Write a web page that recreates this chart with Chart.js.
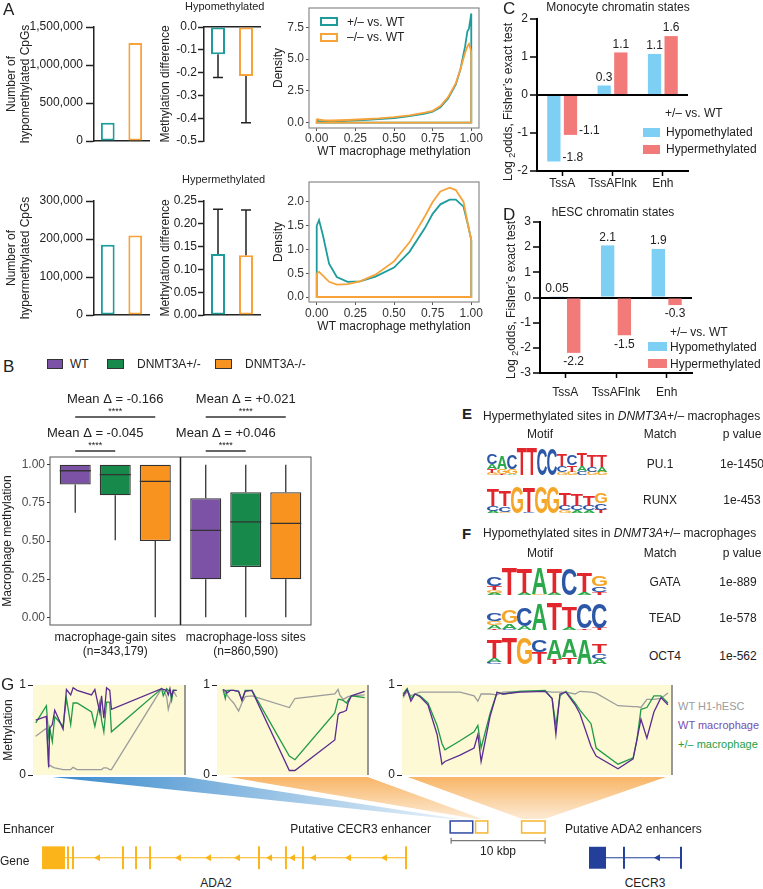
<!DOCTYPE html>
<html>
<head>
<meta charset="utf-8">
<script src="https://cdn.jsdelivr.net/npm/chart.js@4.4.1/dist/chart.umd.min.js"></script>
<style>
html, body { margin: 0; padding: 0; background: #fff; }
#fig { position: relative; width: 763px; height: 889px; overflow: hidden; font-family: 'Liberation Sans', Arial, sans-serif; color: #222; }
.t { position: absolute; white-space: nowrap; line-height: 1; font-size: 12px; }
.sw { position: absolute; box-sizing: border-box; }
canvas { position: absolute; }
</style>
</head>
<body>
<div id="fig">
<svg width="763" height="889" style="position:absolute;left:0;top:0">
  <defs>
    <linearGradient id="gb" gradientUnits="userSpaceOnUse" x1="60" y1="776" x2="470" y2="822">
      <stop offset="0" stop-color="#3c8ccd"/><stop offset="1" stop-color="#eef5fb"/>
    </linearGradient>
    <linearGradient id="go" gradientUnits="userSpaceOnUse" x1="0" y1="776" x2="0" y2="822">
      <stop offset="0" stop-color="#f8b464"/><stop offset="1" stop-color="#fdeedc"/>
    </linearGradient>
  </defs>
  <polygon points="33,776 186,776 472,820 450,820" fill="url(#gb)" stroke="#fff" stroke-width="2"/>
  <polygon points="217,776 368,776 488,820 476,820" fill="url(#go)" stroke="#fff" stroke-width="2"/>
  <polygon points="402,776 672,776 545,820 522,820" fill="url(#go)" stroke="#fff" stroke-width="2"/>
</svg>
</div>
<script>
// ---------- A: differentially methylated CpGs ----------
const pairLabels = ['+/– vs. WT', '–/– vs. WT'];
const hypoCount = [240000, 1290000];
const hyperCount = [185000, 209000];
const hypoDiff = [-0.12, -0.215];
const hypoDiffErr = [-0.222, -0.42];
const hyperDiff = [0.134, 0.131];
const hyperDiffErr = [0.232, 0.23];

// density of WT macrophage methylation
const densTicksX = [0, 0.25, 0.5, 0.75, 1];
const hypoDensTicksY = [0, 2.5, 5, 7.5];
const hyperDensTicksY = [0, 0.5, 1, 1.5, 2];
const hypoDensX = [0, 0.02, 0.05, 0.1, 0.2, 0.3, 0.4, 0.5, 0.6, 0.7, 0.75, 0.8, 0.85, 0.9, 0.93, 0.96, 0.975, 0.985, 0.995, 1.0, 1.0];
const hypoDensHet = [0.15, 0.1, 0.09, 0.1, 0.15, 0.2, 0.27, 0.36, 0.5, 0.7, 0.85, 1.2, 1.9, 3.0, 4.2, 6.0, 7.2, 7.4, 8.2, 8.6, 0];
const hypoDensKO = [0.3, 0.22, 0.17, 0.16, 0.2, 0.26, 0.33, 0.43, 0.56, 0.78, 0.92, 1.3, 2.0, 3.1, 4.2, 5.5, 6.0, 6.2, 5.8, 5.5, 0];
const hyperDensX = [0, 0.015, 0.04, 0.08, 0.13, 0.2, 0.28, 0.38, 0.5, 0.6, 0.7, 0.75, 0.8, 0.86, 0.9, 0.95, 0.98, 1.0, 1.0];
const hyperDensHet = [1.5, 1.62, 1.3, 0.7, 0.42, 0.32, 0.33, 0.43, 0.62, 0.95, 1.45, 1.75, 1.95, 2.05, 2.05, 1.9, 1.5, 1.2, 0];
const hyperDensKO = [0.5, 0.53, 0.45, 0.32, 0.26, 0.27, 0.33, 0.47, 0.75, 1.15, 1.7, 2.0, 2.22, 2.3, 2.25, 2.0, 1.5, 1.2, 0];

// ---------- B: box plots ----------
const boxGroups = ['WT', 'DNMT3A+/-', 'DNMT3A-/-'];
const siteLabels = [['macrophage-gain sites', '(n=343,179)'], ['macrophage-loss sites', '(n=860,590)']];
const boxQ1 = [[0.87, 0.25], [0.80, 0.33], [0.50, 0.25]];
const boxMed = [[0.96, 0.57], [0.935, 0.625], [0.89, 0.615]];
const boxQ3 = [[1.0, 0.78], [1.0, 0.82], [1.0, 0.82]];
const boxLo = [[0.685, 0], [0.505, 0], [0, 0]];
const boxHi = [[1, 1], [1, 1], [1, 1]];
const boxTicks = [0, 0.25, 0.5, 0.75, 1];
const bracketCat = [0, 0, 1, 1];
const bracketGroup = [2, 1, 2, 1];
const bracketText = ['Mean Δ = -0.166', 'Mean Δ = -0.045', 'Mean Δ = +0.021', 'Mean Δ = +0.046'];

// ---------- C, D: chromatin state enrichment ----------
const stateLabels = ['TssA', 'TssAFlnk', 'Enh'];
const monoHypo = [-1.75, 0.25, 1.08];
const monoHyper = [-1.05, 1.12, 1.55];
const monoHypoLbl = ['-1.8', '0.3', '1.1'];
const monoHyperLbl = ['-1.1', '1.1', '1.6'];
const escHypo = [0.05, 2.07, 1.93];
const escHyper = [-2.2, -1.5, -0.3];
const escHypoLbl = ['0.05', '2.1', '1.9'];
const escHyperLbl = ['-2.2', '-1.5', '-0.3'];

// ---------- E, F: motif logos (letter, bits) bottom to top ----------
const logoPU1 = [
  [['G', 0.15], ['T', 0.3], ['A', 0.35], ['C', 0.75]],
  [['T', 0.1], ['G', 0.35], ['A', 1.0]],
  [['A', 0.1], ['G', 0.35], ['C', 1.1]],
  [['T', 2.0]],
  [['T', 2.0]],
  [['C', 1.95]],
  [['C', 1.9]],
  [['G', 0.2], ['C', 0.45], ['T', 0.85]],
  [['G', 0.25], ['T', 0.45], ['C', 0.75]],
  [['C', 0.3], ['A', 0.4], ['T', 0.95]],
  [['G', 0.25], ['C', 0.35], ['T', 0.85]],
  [['G', 0.25], ['A', 0.35], ['T', 0.85]]
];
const logoRUNX = [
  [['A', 0.15], ['C', 0.35], ['T', 1.25]],
  [['G', 0.1], ['C', 0.4], ['T', 1.15]],
  [['G', 1.95]],
  [['C', 0.1], ['T', 1.85]],
  [['G', 1.95]],
  [['G', 1.9]],
  [['G', 0.2], ['C', 0.35], ['T', 1.0]],
  [['A', 0.2], ['C', 0.35], ['T', 0.9]],
  [['A', 0.2], ['C', 0.35], ['T', 0.75]],
  [['T', 0.25], ['C', 0.45], ['G', 0.75]]
];
const logoGATA = [
  [['A', 0.15], ['G', 0.2], ['T', 0.25], ['C', 0.65]],
  [['T', 1.95]],
  [['A', 0.15], ['T', 1.75]],
  [['G', 0.1], ['A', 1.8]],
  [['A', 0.15], ['T', 1.75]],
  [['C', 1.85]],
  [['A', 0.2], ['T', 1.35]],
  [['T', 0.2], ['C', 0.4], ['G', 0.75]]
];
const logoTEAD = [
  [['T', 0.1], ['A', 0.25], ['G', 0.3], ['C', 0.55]],
  [['C', 0.1], ['A', 0.4], ['G', 0.95]],
  [['A', 0.3], ['C', 1.35]],
  [['A', 1.85]],
  [['T', 1.9]],
  [['A', 0.2], ['T', 1.5]],
  [['T', 0.1], ['C', 1.75]],
  [['T', 0.15], ['C', 1.75]]
];
const logoOCT4 = [
  [['C', 0.15], ['A', 0.3], ['T', 1.35]],
  [['T', 1.95]],
  [['G', 1.95]],
  [['T', 0.9], ['C', 0.85]],
  [['T', 0.35], ['A', 1.4]],
  [['T', 0.5], ['A', 1.3]],
  [['A', 1.8]],
  [['A', 0.4], ['C', 0.4], ['T', 0.65]]
];

// ---------- G: methylation tracks (relative position 0-100) ----------
const gSeries = ['WT H1-hESC', 'WT macrophage', '+/– macrophage'];
const gPos1 = [1.8, 8.8, 10.3, 11.0, 12.7, 14.3, 19.8, 22.0, 24.8, 26.4, 29.0, 38.5, 40.7, 44.0, 45.1, 46.6, 48.4, 50.5, 51.6, 84.6, 85.7, 87.9, 89.0, 90.1, 91.2, 92.3, 94.5];
const g1Esc = [0.43, 0.52, 0.09, 0.11, 0.09, 0.08, 0.06, 0.06, 0.06, 0.085, 0.06, 0.06, 0.06, 0.06, 0.06, 0.08, 0.08, 0.06, 0.06, 0.96, 0.94, 0.87, 0.73, 0.80, 0.87, 0.94, 0.87];
const g1Wt = [0.61, 0.65, 0.09, 0.52, 0.56, 0.72, 0.51, 0.95, 0.89, 0.97, 0.94, 0.89, 0.95, 0.69, 0.88, 0.63, 0.97, 0.94, 0.73, 0.96, 0.95, 0.94, 0.89, 0.96, 0.87, 0.94, 0.94];
const g1Het = [0.58, 0.77, 0.43, 0.52, 0.37, 0.65, 0.54, 0.85, 0.56, 0.80, 0.80, 0.70, 0.54, 0.81, 0.61, 0.48, 0.81, 0.81, 0.48, 0.96, 0.88, 0.96, 0.94, 0.94, 0.83, 0.94, 0.94];
const gPos2 = [4.0, 5.5, 6.6, 8.8, 11.0, 14.3, 16.5, 18.7, 23.1, 47.9, 51.6, 78.0, 80.2, 81.3, 83.5, 85.7, 86.8, 89.0, 97.8];
const g2Esc = [0.95, 0.91, 0.89, 0.84, 0.80, 0.71, 0.80, 0.87, 0.88, 0.75, 0.85, 0.90, 0.95, 0.89, 0.84, 0.86, 0.87, 0.88, 0.89];
const g2Wt = [0.95, 0.94, 0.91, 0.94, 0.94, 0.93, 0.83, 0.93, 0.94, 0.05, 0.05, 0.39, 0.67, 0.69, 0.70, 0.72, 0.80, 0.88, 0.93];
const g2Het = [0.95, 0.85, 0.94, 0.94, 0.94, 0.93, 0.83, 0.94, 0.94, 0.21, 0.17, 0.69, 0.84, 0.84, 0.83, 0.80, 0.83, 0.88, 0.86];
const gPos3 = [0.4, 1.9, 3.3, 4.8, 6.7, 9.6, 13.0, 14.8, 15.9, 21.5, 26.7, 28.1, 29.3, 32.6, 35.2, 37.4, 43.7, 53.0, 55.6, 57.0, 58.5, 60.7, 64.1, 65.9, 70.0, 71.9, 80.0, 85.6, 87.0, 88.5, 90.7, 93.3, 95.9, 98.5];
const g3Esc = [0.86, 0.93, 0.88, 0.90, 0.92, 0.92, 0.92, 0.92, 0.92, 0.92, 0.88, 0.82, 0.90, 0.90, 0.89, 0.92, 0.93, 0.93, 0.92, 0.92, 0.92, 0.92, 0.90, 0.93, 0.92, 0.91, 0.77, 0.76, 0.76, 0.75, 0.84, 0.84, 0.85, 0.91];
const g3Wt = [0.88, 0.95, 0.82, 0.90, 0.87, 0.78, 0.45, 0.12, 0.15, 0.22, 0.30, 0.45, 0.15, 0.65, 0.92, 0.90, 0.92, 0.93, 0.85, 0.45, 0.90, 0.92, 0.78, 0.68, 0.32, 0.21, 0.07, 0.18, 0.39, 0.62, 0.41, 0.70, 0.86, 0.78];
const g3Het = [0.90, 0.96, 0.85, 0.90, 0.88, 0.80, 0.55, 0.35, 0.28, 0.38, 0.48, 0.55, 0.30, 0.68, 0.92, 0.90, 0.93, 0.94, 0.85, 0.55, 0.88, 0.93, 0.80, 0.72, 0.57, 0.30, 0.12, 0.19, 0.39, 0.73, 0.75, 0.88, 0.88, 0.80];

// gene track, kbp
const ada2Box = [1.28, 3.72];
const ada2Span = [3.72, 40.0];
const ada2Exons = [4.04, 4.57, 9.89, 11.28, 12.77, 24.36, 27.23, 29.04, 40.0];
const ada2Arrows = [7.13, 15.74, 18.94, 22.02, 25.43, 27.87, 30.11, 33.83, 37.66];
const cecr3Box = [59.47, 61.28];
const cecr3Span = [61.28, 69.26];
const cecr3Exons = [63.19, 69.26];
const cecr3Arrows = [66.7];
const enhStart = [44.7, 47.4, 52.3];
const enhEnd = [47.1, 48.7, 54.8];
const enhGene = ['CECR3', 'ADA2', 'ADA2'];
const scaleBar = [44.8, 54.8];

// ---------- styling ----------
const teal = '#1e9c9c', orange = '#f8a23a';
const blueBar = '#7ecff4', redBar = '#f27b79';
const boxColors = ['#7b52a6', '#17894a', '#f7931e'];
const gColors = ['#9c9c9c', '#5b2c90', '#209a48'];
const baseColors = { A: '#2ba84a', C: '#2c57a7', G: '#f4a629', T: '#e2262b' };
const FONT = "'Liberation Sans', Arial, sans-serif";

Chart.defaults.font.family = FONT;
Chart.defaults.font.size = 12;
Chart.defaults.color = '#222';
Chart.defaults.animation = false;
Chart.defaults.events = [];
Chart.defaults.plugins.legend.display = false;
Chart.defaults.plugins.tooltip.enabled = false;

const fig = document.getElementById('fig');

function mk(box, cfg) {
  const c = document.createElement('canvas');
  c.width = box[2]; c.height = box[3];
  c.style.left = box[0] + 'px'; c.style.top = box[1] + 'px';
  fig.appendChild(c);
  cfg.options = Object.assign({ responsive: false, devicePixelRatio: 1 }, cfg.options);
  return new Chart(c, cfg);
}
const zeroPad = s => { s.paddingLeft = s.paddingRight = s.paddingTop = s.paddingBottom = 0; };
const fixW = w => s => { s.width = w; zeroPad(s); };
const fixH = h => s => { s.height = h; zeroPad(s); };

function yAx(o) {
  return {
    min: o.min, max: o.max,
    afterBuildTicks: o.ticks ? (s => { s.ticks = o.ticks.map(v => ({ value: v })); }) : undefined,
    ticks: { stepSize: o.step, callback: o.fmt, font: { size: 12 }, color: o.color || '#222', padding: o.pad ?? 2 },
    grid: { drawOnChartArea: false, tickLength: o.tl ?? 6, tickColor: o.tc || '#222', tickWidth: o.tw ?? 1.5 },
    border: { display: o.border !== false, color: '#222', width: 1.5 },
    title: o.title ? { display: true, text: o.title, font: { size: 12 }, color: '#222', padding: { top: o.tp ?? 4, bottom: 0 } } : { display: false },
    afterFit: fixW(o.w)
  };
}
function xBare(h, pos) {
  return { position: pos || 'bottom', ticks: { display: false }, grid: { display: false, drawTicks: false },
    border: { color: '#222', width: 1.5 }, afterFit: fixH(h) };
}

function txt(html, x, y, o = {}) {
  const d = document.createElement('div');
  d.className = 't';
  d.innerHTML = html;
  const tx = { left: '0', center: '-50%', right: '-100%' }[o.align || 'left'];
  d.style.left = x + 'px';
  d.style.top = y + 'px';
  d.style.transform = `translate(${tx},-50%)` + (o.rot ? ` rotate(${o.rot}deg)` : '');
  if (o.size) d.style.fontSize = o.size + 'px';
  if (o.color) d.style.color = o.color;
  if (o.bold) d.style.fontWeight = 'bold';
  fig.appendChild(d);
}
function sw(x, y, w, h, fill, border) {
  const d = document.createElement('div');
  d.className = 'sw';
  Object.assign(d.style, { left: x + 'px', top: y + 'px', width: w + 'px', height: h + 'px', background: fill, border: border || 'none' });
  fig.appendChild(d);
}

// ---------- plugins ----------
const errBars = ends => ({
  id: 'errBars',
  afterDatasetsDraw(chart) {
    const { ctx, scales: { y } } = chart;
    ctx.save();
    ctx.strokeStyle = '#222'; ctx.lineWidth = 1.5;
    chart.getDatasetMeta(0).data.forEach((bar, i) => {
      const ye = y.getPixelForValue(ends[i]);
      ctx.beginPath();
      ctx.moveTo(bar.x, bar.y); ctx.lineTo(bar.x, ye);
      ctx.moveTo(bar.x - 5, ye); ctx.lineTo(bar.x + 5, ye);
      ctx.stroke();
    });
    ctx.restore();
  }
});

const panelBox = color => ({
  id: 'panelBox',
  afterDraw(chart) {
    const { ctx, chartArea: a } = chart;
    ctx.save();
    ctx.strokeStyle = color; ctx.lineWidth = 1.2;
    ctx.strokeRect(a.left, a.top, a.width, a.height);
    ctx.restore();
  }
});

const barLabels = (labels, negMode) => ({
  id: 'barLabels',
  afterDatasetsDraw(chart) {
    const ctx = chart.ctx;
    ctx.save();
    ctx.font = '12px ' + FONT;
    ctx.fillStyle = '#222';
    chart.data.datasets.forEach((ds, di) => {
      chart.getDatasetMeta(di).data.forEach((bar, i) => {
        const v = ds.data[i], s = labels[di][i];
        if (v >= 0) {
          ctx.textAlign = 'center'; ctx.textBaseline = 'bottom';
          ctx.fillText(s, bar.x, bar.y - 2);
        } else if (negMode === 'right') {
          ctx.textAlign = 'left'; ctx.textBaseline = 'bottom';
          ctx.fillText(s, bar.x + bar.width / 2 + 2, bar.y + 2);
        } else {
          ctx.textAlign = 'center'; ctx.textBaseline = 'top';
          ctx.fillText(s, bar.x, bar.y + 3);
        }
      });
    });
    ctx.restore();
  }
});

const boxExtras = {
  id: 'boxExtras',
  afterDatasetsDraw(chart) {
    const { ctx, chartArea: a, scales: { x, y } } = chart;
    ctx.save();
    ctx.strokeStyle = '#333'; ctx.lineWidth = 1.3;
    boxMed.forEach((meds, g) => {
      chart.getDatasetMeta(g).data.forEach((bar, c) => {
        const hw = bar.width / 2;
        const ym = y.getPixelForValue(meds[c]);
        ctx.beginPath();
        ctx.moveTo(bar.x - hw, ym); ctx.lineTo(bar.x + hw, ym);
        ctx.moveTo(bar.x, y.getPixelForValue(boxQ3[g][c])); ctx.lineTo(bar.x, y.getPixelForValue(boxHi[g][c]));
        ctx.moveTo(bar.x, y.getPixelForValue(boxQ1[g][c])); ctx.lineTo(bar.x, y.getPixelForValue(boxLo[g][c]));
        ctx.stroke();
      });
    });
    // panel frame and facet divider
    ctx.strokeStyle = '#555'; ctx.lineWidth = 1;
    ctx.strokeRect(a.left, a.top, a.width, a.height);
    const xm = (x.getPixelForTick(0) + x.getPixelForTick(1)) / 2;
    ctx.strokeStyle = '#222'; ctx.lineWidth = 1.5;
    ctx.beginPath(); ctx.moveTo(xm, a.top); ctx.lineTo(xm, a.bottom); ctx.stroke();
    // significance brackets
    ctx.fillStyle = '#222'; ctx.textAlign = 'center'; ctx.textBaseline = 'middle';
    bracketText.forEach((t, k) => {
      const c = bracketCat[k], g = bracketGroup[k];
      const x0 = chart.getDatasetMeta(0).data[c].x, x1 = chart.getDatasetMeta(g).data[c].x;
      const yl = a.top - (g === 2 ? 40 : 6);
      ctx.strokeStyle = '#333'; ctx.lineWidth = 1.5;
      ctx.beginPath(); ctx.moveTo(x0, yl); ctx.lineTo(x1, yl); ctx.stroke();
      ctx.font = '9px ' + FONT;
      ctx.fillText('****', (x0 + x1) / 2, yl - 5);
      ctx.font = '13px ' + FONT;
      ctx.fillText(t, (x0 + x1) / 2, yl - 18);
    });
    ctx.restore();
  }
};

const logoDraw = logo => ({
  id: 'logoDraw',
  afterDraw(chart) {
    const { ctx, scales: { x, y } } = chart;
    ctx.save();
    ctx.font = 'bold 100px ' + FONT;
    ctx.textAlign = 'left'; ctx.textBaseline = 'alphabetic';
    logo.forEach((stack, p) => {
      const xl = x.getPixelForValue(p + 0.5), xr = x.getPixelForValue(p + 1.5);
      let cum = 0;
      stack.forEach(([ch, h]) => {
        const yb = y.getPixelForValue(cum), yt = y.getPixelForValue(cum + h);
        cum += h;
        const m = ctx.measureText(ch);
        const gw = m.actualBoundingBoxLeft + m.actualBoundingBoxRight;
        const gh = m.actualBoundingBoxAscent + m.actualBoundingBoxDescent;
        ctx.save();
        ctx.translate(xl, yt);
        ctx.scale((xr - xl) / gw, (yb - yt) / gh);
        ctx.fillStyle = baseColors[ch];
        ctx.fillText(ch, m.actualBoundingBoxLeft, m.actualBoundingBoxAscent);
        ctx.restore();
      });
    });
    ctx.restore();
  }
});

const trackBg = {
  id: 'trackBg',
  beforeDraw(chart) {
    const { ctx, chartArea: a } = chart;
    ctx.save();
    ctx.fillStyle = '#fcf9d4';
    ctx.fillRect(a.left, a.top, a.width, a.height);
    ctx.restore();
  },
  afterDraw(chart) {
    const { ctx, chartArea: a } = chart;
    ctx.save();
    ctx.strokeStyle = '#777'; ctx.lineWidth = 1.5;
    ctx.beginPath(); ctx.moveTo(a.right, a.top); ctx.lineTo(a.right, a.bottom); ctx.stroke();
    ctx.restore();
  }
};

const geneTrack = {
  id: 'geneTrack',
  afterDraw(chart) {
    const { ctx, scales: { x, y } } = chart;
    const px = v => x.getPixelForValue(v), py = v => y.getPixelForValue(v);
    const row = 1;
    const drawGene = (box, span, exons, arrows, color, h) => {
      ctx.strokeStyle = color; ctx.fillStyle = color;
      ctx.lineWidth = 1;
      ctx.beginPath(); ctx.moveTo(px(span[0]), py(row)); ctx.lineTo(px(span[1]), py(row)); ctx.stroke();
      ctx.fillRect(px(box[0]), py(row + h), px(box[1]) - px(box[0]), py(row - h) - py(row + h));
      ctx.lineWidth = 2;
      exons.forEach(e => {
        ctx.beginPath(); ctx.moveTo(px(e), py(row + h)); ctx.lineTo(px(e), py(row - h)); ctx.stroke();
      });
      arrows.forEach(a => {
        const yc = py(row);
        ctx.beginPath();
        ctx.moveTo(px(a) - 3, yc); ctx.lineTo(px(a) + 3, yc - 3.5); ctx.lineTo(px(a) + 3, yc + 3.5);
        ctx.closePath(); ctx.fill();
      });
    };
    ctx.save();
    drawGene(ada2Box, ada2Span, ada2Exons, ada2Arrows, '#fbb41a', 0.8);
    drawGene(cecr3Box, cecr3Span, cecr3Exons, cecr3Arrows, '#233f99', 0.77);
    ctx.lineWidth = 1.5;
    enhStart.forEach((s, i) => {
      ctx.strokeStyle = enhGene[i] === 'CECR3' ? '#2e4aa0' : '#f7b52c';
      ctx.strokeRect(px(s), py(3.58), px(enhEnd[i]) - px(s), py(2.74) - py(3.58));
    });
    const ys = py(2.2);
    ctx.strokeStyle = '#777'; ctx.lineWidth = 1.2;
    ctx.beginPath();
    ctx.moveTo(px(scaleBar[0]), ys); ctx.lineTo(px(scaleBar[1]), ys);
    ctx.moveTo(px(scaleBar[0]), ys - 3); ctx.lineTo(px(scaleBar[0]), ys + 3);
    ctx.moveTo(px(scaleBar[1]), ys - 3); ctx.lineTo(px(scaleBar[1]), ys + 3);
    ctx.stroke();
    ctx.restore();
  }
};

// ---------- A ----------
function countChart(box, data, max, step, title) {
  mk(box, {
    type: 'bar',
    data: { labels: pairLabels, datasets: [{ data, backgroundColor: '#fff', borderColor: [teal, orange], borderWidth: 2, borderSkipped: false, categoryPercentage: 1, barPercentage: 0.5 }] },
    options: {
      layout: { padding: { top: 15, right: 6 } },
      scales: {
        x: xBare(10),
        y: yAx({ min: 0, max, step, fmt: v => v.toLocaleString('en-US'), w: 94, tl: 8, pad: 3, title, tp: 4 })
      }
    }
  });
}
function diffChart(box, data, ends, min, max, step, digits, xpos) {
  mk(box, {
    type: 'bar',
    data: { labels: pairLabels, datasets: [{ data, backgroundColor: '#fff', borderColor: [teal, orange], borderWidth: 2, borderSkipped: false, categoryPercentage: 1, barPercentage: 0.5 }] },
    options: {
      layout: { padding: { top: 15, right: 8, bottom: xpos === 'top' ? 10 : 0 } },
      scales: {
        x: xBare(xpos === 'top' ? 0 : 10, xpos),
        y: yAx({ min, max, step, fmt: v => v.toFixed(digits), w: 54, tl: 6, pad: 1, title: 'Methylation difference', tp: 8 })
      }
    },
    plugins: [errBars(ends)]
  });
}
function densChart(box, xs, het, ko, yMin, yMax, yTicks, padTop, xh, xpad) {
  const pts = arr => xs.map((x, i) => ({ x, y: arr[i] })).concat([{ x: 0, y: 0 }, { x: 0, y: arr[0] }]);
  mk(box, {
    type: 'scatter',
    data: { datasets: [
      { label: pairLabels[1], data: pts(ko), showLine: true, borderColor: orange, borderWidth: 1.8, pointRadius: 0 },
      { label: pairLabels[0], data: pts(het), showLine: true, borderColor: teal, borderWidth: 1.8, pointRadius: 0 }
    ] },
    options: {
      layout: { padding: { top: padTop, right: 8 } },
      scales: {
        x: {
          min: -0.05, max: 1.05,
          afterBuildTicks: s => { s.ticks = densTicksX.map(v => ({ value: v })); },
          ticks: { callback: v => v.toFixed(2), color: '#333', padding: xpad, font: { size: 12 } },
          grid: { drawOnChartArea: false, tickLength: 3, tickColor: '#555', tickWidth: 1 },
          border: { display: false },
          title: { display: true, text: 'WT macrophage methylation', font: { size: 12 }, color: '#222', padding: { top: 0, bottom: 0 } },
          afterFit: fixH(xh)
        },
        y: yAx({ min: yMin, max: yMax, ticks: yTicks, fmt: v => v.toFixed(1), w: 44, tl: 3, pad: 2, color: '#333', tc: '#555', tw: 1, border: false, title: 'Density', tp: 6 })
      }
    },
    plugins: [panelBox('#8a8a8a')]
  });
}

countChart([0, 12, 155, 139], hypoCount, 1500000, 500000, ['Number of', 'hypomethylated CpGs']);
diffChart([150, 12, 118, 139], hypoDiff, hypoDiffErr, -0.5, 0, 0.1, 1, 'top');
densChart([265, 0, 222, 159], hypoDensX, hypoDensHet, hypoDensKO, -0.43, 9.03, hypoDensTicksY, 8, 31, 0);
countChart([0, 186, 155, 139], hyperCount, 300000, 100000, ['Number of', 'hypermethylated CpGs']);
diffChart([150, 186, 118, 139], hyperDiff, hyperDiffErr, 0, 0.25, 0.05, 2, 'bottom');
densChart([265, 170, 222, 164], hyperDensX, hyperDensHet, hyperDensKO, -0.105, 2.42, hyperDensTicksY, 12, 32, 1);

// ---------- C, D ----------
function stateChart(box, hypo, hyper, lbls, min, max, padTop, xh, xpad, negMode) {
  mk(box, {
    type: 'bar',
    data: { labels: stateLabels, datasets: [
      { label: 'Hypomethylated', data: hypo, backgroundColor: blueBar, categoryPercentage: 0.66, barPercentage: 0.8 },
      { label: 'Hypermethylated', data: hyper, backgroundColor: redBar, categoryPercentage: 0.66, barPercentage: 0.8 }
    ] },
    options: {
      layout: { padding: { top: padTop, right: 10, bottom: 14 } },
      scales: {
        x: {
          ticks: { font: { size: 12 }, padding: xpad, color: '#222', autoSkip: false, maxRotation: 0, minRotation: 0 },
          grid: { display: true, drawOnChartArea: false, offset: false, tickLength: 5, tickColor: '#000', tickWidth: 1.5 },
          border: { color: '#000', width: 2 },
          afterFit: fixH(xh)
        },
        y: {
          min, max, ticks: { stepSize: 1, font: { size: 12 }, color: '#222', padding: 2 },
          grid: { drawOnChartArea: true, color: c => (c.tick && c.tick.value === 0 ? '#000' : 'rgba(0,0,0,0)'), lineWidth: 2, tickColor: '#000', tickWidth: 1.5, tickLength: 7 },
          border: { color: '#000', width: 2 },
          afterFit: fixW(42)
        }
      }
    },
    plugins: [barLabels(lbls, negMode)]
  });
}
stateChart([495, 5, 203, 200], monoHypo, monoHyper, [monoHypoLbl, monoHyperLbl], -2, 2, 14, 20, 0, 'right');
stateChart([498, 208, 204, 205], escHypo, escHyper, [escHypoLbl, escHyperLbl], -3, 3, 14, 26, 7, 'below');

// ---------- B ----------
mk([0, 380, 319, 281], {
  type: 'bar',
  data: {
    labels: siteLabels,
    datasets: boxGroups.map((g, i) => ({
      label: g, data: boxQ1[i].map((q, c) => [q, boxQ3[i][c]]),
      backgroundColor: boxColors[i], borderColor: '#333', borderWidth: 1.3, borderSkipped: false,
      categoryPercentage: 0.92, barPercentage: 0.775
    }))
  },
  options: {
    layout: { padding: { top: 77, right: 8 } },
    scales: {
      x: { ticks: { font: { size: 12 }, padding: 5, color: '#222' }, grid: { display: false, drawTicks: false }, border: { display: false }, afterFit: fixH(36) },
      y: yAx({ min: -0.05, max: 1.05, ticks: boxTicks, fmt: v => v.toFixed(2), w: 50, tl: 3, pad: 2, color: '#4d4d4d', tc: '#333', tw: 1, border: false, title: 'Macrophage methylation', tp: 0 })
    }
  },
  plugins: [boxExtras]
});

// ---------- E, F logos ----------
function logoChart(box, logo) {
  mk(box, {
    type: 'scatter',
    data: { datasets: [{ data: [] }] },
    options: {
      layout: { padding: 0 },
      scales: { x: { display: false, min: 0.5, max: logo.length + 0.5 }, y: { display: false, min: 0, max: 2 } }
    },
    plugins: [logoDraw(logo)]
  });
}
logoChart([487, 448, 120, 27], logoPU1);
logoChart([487, 486, 120, 27], logoRUNX);
logoChart([487, 567, 120, 28], logoGATA);
logoChart([487, 602, 120, 28], logoTEAD);
logoChart([487, 637, 120, 27], logoOCT4);

// ---------- G ----------
function trackChart(box, yw, pos, esc, wt, het, title) {
  const pts = arr => pos.map((x, i) => ({ x, y: arr[i] }));
  mk(box, {
    type: 'scatter',
    data: { datasets: [
      { label: gSeries[1], data: pts(wt), showLine: true, borderColor: gColors[1], borderWidth: 1.3, pointRadius: 0 },
      { label: gSeries[2], data: pts(het), showLine: true, borderColor: gColors[2], borderWidth: 1.3, pointRadius: 0 },
      { label: gSeries[0], data: pts(esc), showLine: true, borderColor: gColors[0], borderWidth: 1.3, pointRadius: 0 }
    ] },
    options: {
      layout: { padding: { top: 8, right: 6, bottom: 6 } },
      scales: {
        x: { display: false, min: 0, max: 100 },
        y: yAx({ min: 0, max: 1, ticks: [0, 1], fmt: v => String(v), w: yw, tl: 5, pad: 2, tw: 1, border: false, title, tp: 1 })
      }
    },
    plugins: [trackBg]
  });
}
trackChart([0, 677, 191, 104], 33, gPos1, g1Esc, g1Wt, g1Het, 'Methylation');
trackChart([195, 677, 179, 104], 22, gPos2, g2Esc, g2Wt, g2Het);
trackChart([380, 677, 298, 104], 22, gPos3, g3Esc, g3Wt, g3Het);

mk([30, 815, 700, 57], {
  type: 'scatter',
  data: { datasets: [{ data: [] }] },
  options: {
    layout: { padding: 0 },
    scales: { x: { display: false, min: 0, max: 74.47 }, y: { display: false, min: 0, max: 4 } }
  },
  plugins: [geneTrack]
});

// ---------- text ----------
txt('A', 3, 9, { size: 17 });
txt('Hypomethylated', 185, 6, { size: 11 });
txt('Hypermethylated', 182, 179, { size: 11 });
sw(320, 17, 18, 9, '#fff', '2px solid ' + teal);
txt(pairLabels[0], 347, 22);
sw(320, 33, 18, 9, '#fff', '2px solid ' + orange);
txt(pairLabels[1], 347, 37);

txt('C', 503, 8, { size: 17 });
txt('Monocyte chromatin states', 618, 7, { align: 'center' });
txt('+/– vs. WT', 665, 113);
sw(643, 128, 17, 9, blueBar);
txt('Hypomethylated', 666, 132);
sw(643, 145, 17, 9, redBar);
txt('Hypermethylated', 666, 149);
txt('Log <span style="font-size:9px;position:relative;top:3px">2</span>odds, Fisher’s exact test', 508, 102, { align: 'center', rot: -90 });

txt('D', 503, 214, { size: 17 });
txt('hESC chromatin states', 613, 212, { align: 'center' });
txt('+/– vs. WT', 670, 332);
sw(648, 342, 19, 9, blueBar);
txt('Hypomethylated', 670, 347);
sw(648, 359, 19, 9, redBar);
txt('Hypermethylated', 670, 364);
txt('Log <span style="font-size:9px;position:relative;top:3px">2</span>odds, Fisher’s exact test', 511, 300, { align: 'center', rot: -90 });

txt('B', 3, 366, { size: 17 });
sw(47, 359, 16, 10, boxColors[0], '1px solid #333');
txt(boxGroups[0], 70, 364);
sw(107, 359, 17, 10, boxColors[1], '1px solid #333');
txt(boxGroups[1], 137, 364);
sw(215, 359, 17, 10, boxColors[2], '1px solid #333');
txt(boxGroups[2], 245, 364);

txt('E', 462, 413, { size: 15, bold: true });
txt('Hypermethylated sites in <i>DNMT3A</i>+/– macrophages', 483, 416);
txt('Motif', 540, 434, { align: 'center' });
txt('Match', 660, 434, { align: 'center' });
txt('p value', 742, 434, { align: 'center' });
txt('PU.1', 660, 464, { align: 'center' });
txt('1e-1450', 742, 464, { align: 'center' });
txt('RUNX', 660, 500, { align: 'center' });
txt('1e-453', 742, 500, { align: 'center' });

txt('F', 462, 533, { size: 15, bold: true });
txt('Hypomethylated sites in <i>DNMT3A</i>+/– macrophages', 483, 533);
txt('Motif', 540, 553, { align: 'center' });
txt('Match', 660, 553, { align: 'center' });
txt('p value', 742, 553, { align: 'center' });
txt('GATA', 665, 582, { align: 'center' });
txt('1e-889', 738, 582, { align: 'center' });
txt('TEAD', 665, 618, { align: 'center' });
txt('1e-578', 738, 618, { align: 'center' });
txt('OCT4', 665, 656, { align: 'center' });
txt('1e-562', 738, 656, { align: 'center' });

txt('G', 1, 684, { size: 17 });
txt(gSeries[0], 678, 706, { color: gColors[0], size: 11 });
txt(gSeries[1], 678, 725, { color: '#7a4eb0', size: 11 });
txt(gSeries[2], 678, 744, { color: '#25a046', size: 11 });
txt('Enhancer', 3, 829);
txt('Gene', 0, 861);
txt('ADA2', 216, 883, { align: 'center' });
txt('CECR3', 645, 883, { align: 'center' });
txt('Putative CECR3 enhancer', 431, 829, { align: 'right' });
txt('Putative ADA2 enhancers', 565, 829);
txt('10 kbp', 498, 851, { align: 'center' });
</script>
</body>
</html>
